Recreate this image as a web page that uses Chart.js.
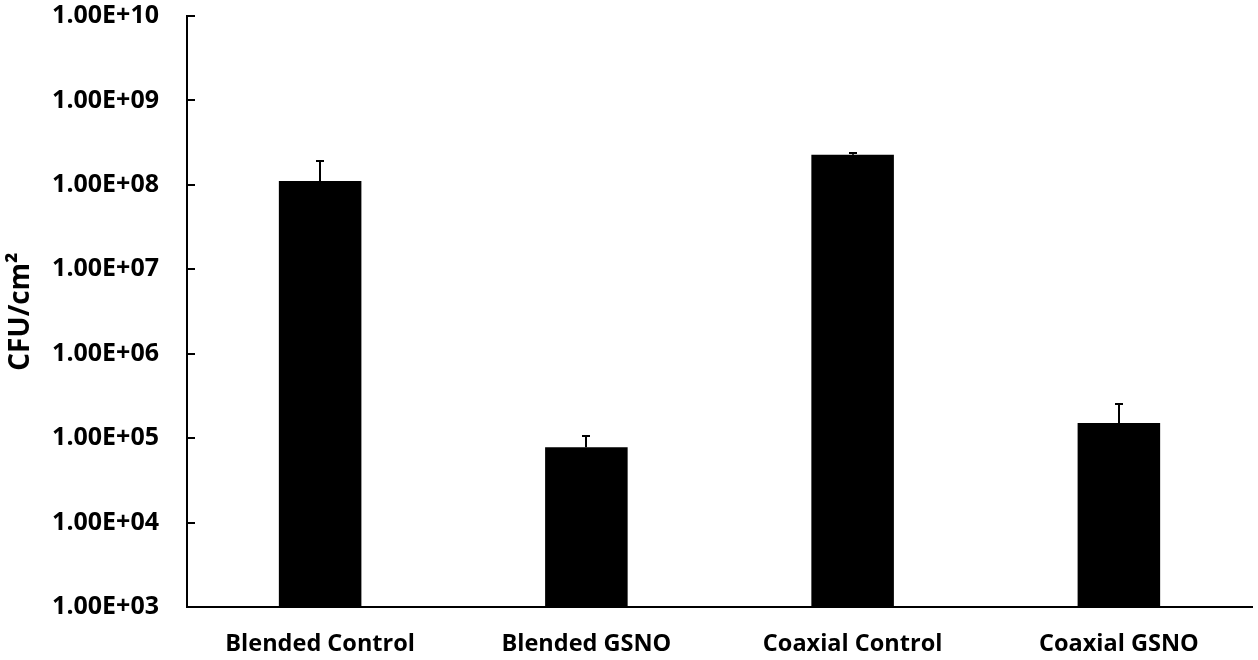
<!DOCTYPE html>
<html>
<head>
<meta charset="utf-8">
<script src="https://cdn.jsdelivr.net/npm/chart.js@4/dist/chart.umd.min.js"></script>
<style>
    html, body { margin: 0; padding: 0; background: #fff; }
    #wrap { width: 1258px; height: 660px; }
</style>
</head>
<body>
<div id="wrap"><canvas id="cfuChart" width="1258" height="660"></canvas></div>
<script>
// Werte (log-Skala).
var categories = ['Blended Control', 'Blended GSNO', 'Coaxial Control', 'Coaxial GSNO'];
var cfuValues = [1.11e8, 7.8e4, 2.27e8, 1.51e5];
var cfuErrors = [0.81e8, 2.8e4, 0.12e8, 1.02e5];
var yTickValues = [1e3, 1e4, 1e5, 1e6, 1e7, 1e8, 1e9, 1e10];
var yTickLabels = ['1.00E+03', '1.00E+04', '1.00E+05', '1.00E+06', '1.00E+07', '1.00E+08', '1.00E+09', '1.00E+10'];

var fontFamily = '"Open Sans", "Liberation Sans", sans-serif';

(function () {
    // Fehlerbalken (nur nach oben) und Innen-Ticks der y-Achse.
    var extrasPlugin = {
        id: 'extras',
        afterDatasetsDraw: function (chart) {
            var ctx = chart.ctx;
            var meta = chart.getDatasetMeta(0);
            var yScale = chart.scales.y;
            ctx.save();
            ctx.strokeStyle = '#000';
            ctx.lineWidth = 2;
            meta.data.forEach(function (bar, i) {
                var top = yScale.getPixelForValue(cfuValues[i] + cfuErrors[i]);
                var x = Math.round(bar.x);
                ctx.beginPath();
                ctx.moveTo(x, bar.y);
                ctx.lineTo(x, top);
                ctx.moveTo(x - 4, top);
                ctx.lineTo(x + 4, top);
                ctx.stroke();
            });
            ctx.restore();
        },
        afterDraw: function (chart) {
            var ctx = chart.ctx;
            var yScale = chart.scales.y;
            var left = chart.chartArea.left;
            ctx.save();
            ctx.strokeStyle = '#000';
            ctx.lineWidth = 2;
            yTickValues.forEach(function (v) {
                var y = Math.round(yScale.getPixelForValue(v));
                ctx.beginPath();
                ctx.moveTo(left, y);
                ctx.lineTo(left + 8, y);
                ctx.stroke();
            });
            ctx.restore();
        }
    };

    var ctx = document.getElementById('cfuChart').getContext('2d');
    new Chart(ctx, {
        type: 'bar',
        data: {
            labels: categories,
            datasets: [{
                data: cfuValues,
                backgroundColor: '#000',
                borderWidth: 0,
                categoryPercentage: 1,
                barPercentage: 0.31
            }]
        },
        options: {
            responsive: false,
            animation: false,
            maintainAspectRatio: false,
            layout: { padding: { top: 16, right: 6, left: 0, bottom: 0 } },
            plugins: {
                legend: { display: false },
                tooltip: { enabled: false }
            },
            scales: {
                x: {
                    grid: { display: false, drawTicks: false },
                    border: { display: true, color: '#000', width: 2 },
                    ticks: {
                        color: '#000',
                        padding: 23,
                        font: { family: fontFamily, size: 23.5, weight: 'bold' }
                    },
                    afterFit: function (scale) {
                        scale.height = 53;
                        scale.paddingLeft = 0;
                        scale.paddingRight = 0;
                    }
                },
                y: {
                    type: 'logarithmic',
                    min: 1e3,
                    max: 1e10,
                    grid: { display: false, drawTicks: false },
                    border: { display: true, color: '#000', width: 2 },
                    afterBuildTicks: function (scale) {
                        scale.ticks = yTickValues.map(function (v) { return { value: v }; });
                    },
                    ticks: {
                        color: '#000',
                        padding: 28,
                        autoSkip: false,
                        font: { family: fontFamily, size: 25, weight: 'bold' },
                        callback: function (value) {
                            var idx = yTickValues.indexOf(value);
                            return idx >= 0 ? yTickLabels[idx] : '';
                        }
                    },
                    title: {
                        display: true,
                        text: 'CFU/cm²',
                        color: '#000',
                        padding: { top: 4, bottom: 0 },
                        font: { family: fontFamily, size: 28, weight: 'bold' }
                    },
                    afterFit: function (scale) {
                        scale.width = 187;
                        // Tick-Padding nicht als Rand oben/unten verwenden.
                        scale.paddingTop = 0;
                        scale.paddingBottom = 0;
                    }
                }
            }
        },
        plugins: [extrasPlugin]
    });
})();
</script>
</body>
</html>
